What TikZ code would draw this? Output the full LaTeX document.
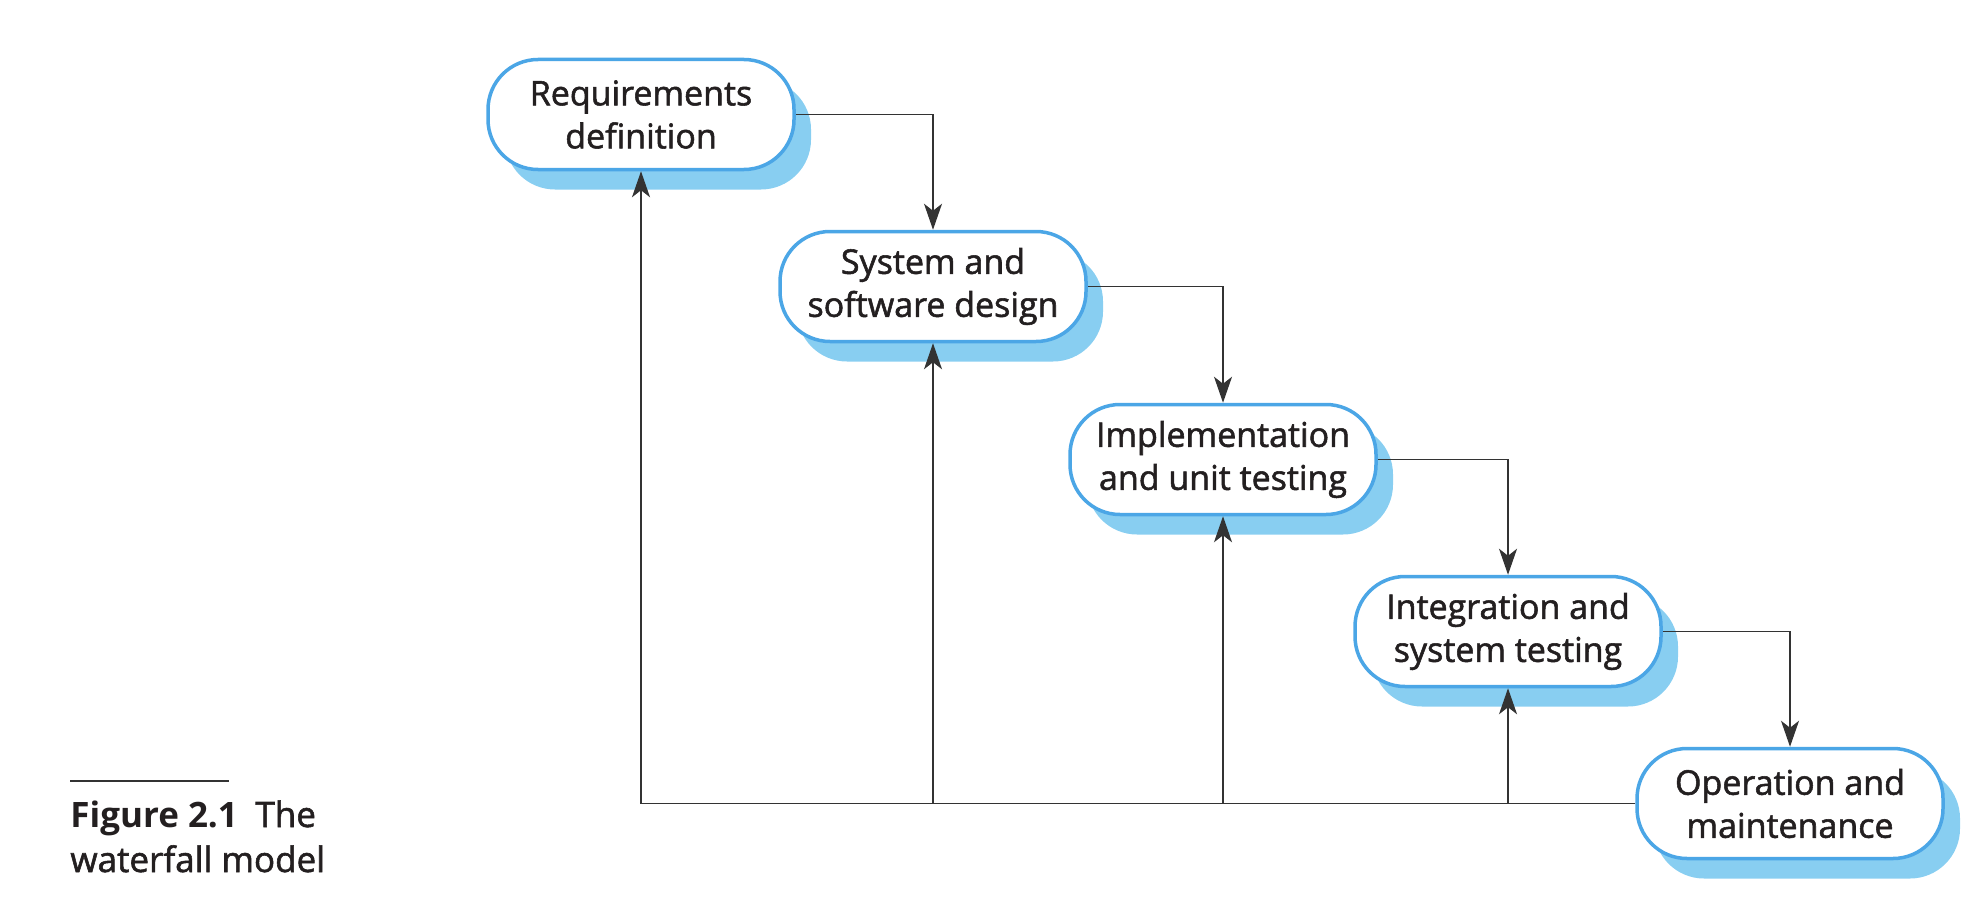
\documentclass[tikz,border=0pt]{standalone}
\usepackage{fontspec}
\setmainfont{Open Sans}
\newfontfamily\heavyfont{Open Sans}[FakeBold=1.6]
\usetikzlibrary{arrows.meta,shadows}
\definecolor{boxblue}{HTML}{4BA6E6}
\definecolor{shadowblue}{HTML}{88CEF1}
\definecolor{ink}{HTML}{231F20}
\definecolor{wire}{HTML}{333333}
\begin{document}
\begin{tikzpicture}[x=0.5pt,y=-0.5pt,
  phase/.style={draw=boxblue, line width=1.75pt, fill=white, rounded corners=25pt,
    minimum width=153pt, minimum height=55pt, align=center, text=ink,
    font=\heavyfont\fontsize{17}{21.5}\selectfont, inner sep=0pt,
    general shadow={fill=shadowblue, draw=none, shadow xshift=8.5pt, shadow yshift=-10pt}},
  wireline/.style={draw=wire, line width=0.7pt},
  flow/.style={wireline, -{Stealth[length=13pt,width=9pt,inset=3.5pt]}},
  captext/.style={anchor=base west, inner sep=0pt, text=ink, font=\heavyfont\fontsize{17.5}{22}\selectfont},
]
\useasboundingbox (0,0) rectangle (1984,920);

\node[phase] (req)    at (641,114.5)  {Requirements\\definition};
\node[phase] (design) at (933,286.5)  {System and\\software design};
\node[phase] (impl)   at (1223,459.5) {Implementation\\and unit testing};
\node[phase] (integ)  at (1508,631.5) {Integration and\\system testing};
\node[phase] (oper)   at (1790,803.5) {Operation and\\maintenance};

\draw[flow] (req.east) -| (design.north);
\draw[flow] (design.east) -| (impl.north);
\draw[flow] (impl.east) -| (integ.north);
\draw[flow] (integ.east) -| (oper.north);

\coordinate (fb1) at (req.south |- oper.west);
\coordinate (fb2) at (design.south |- oper.west);
\coordinate (fb3) at (impl.south |- oper.west);
\coordinate (fb4) at (integ.south |- oper.west);
\draw[wireline] (oper.west) -- (fb1);
\draw[flow] (fb1) -- (req.south);
\draw[flow] (fb2) -- (design.south);
\draw[flow] (fb3) -- (impl.south);
\draw[flow] (fb4) -- (integ.south);

\coordinate (rulea) at (70,781);
\coordinate (ruleb) at (229,781);
\draw[draw=wire, line width=1pt] (rulea) -- (ruleb);
\node[captext] (cap1) at (70,827) {{\fontspec{Open Sans}[FakeBold=0]\bfseries Figure 2.1}\enspace The};
\node[captext] (cap2) at (70,872) {waterfall model};
\end{tikzpicture}
\end{document}
